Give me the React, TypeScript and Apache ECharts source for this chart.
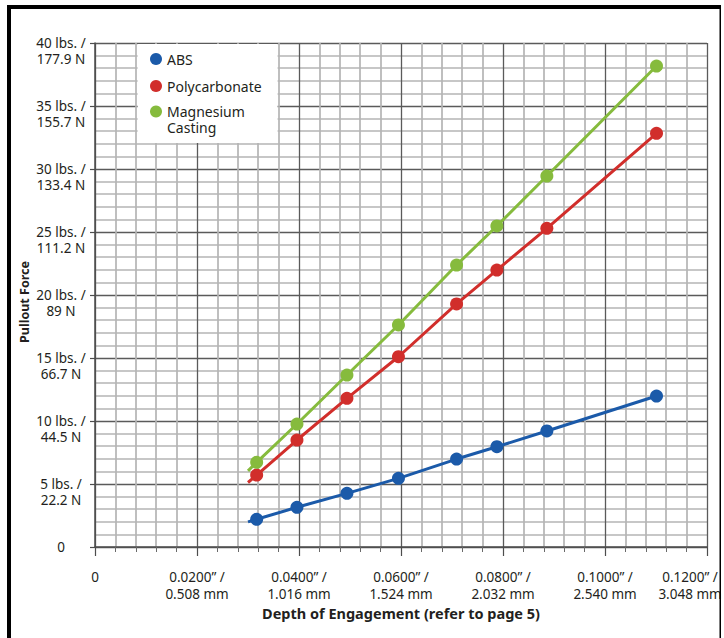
import React, { useEffect, useRef } from "react";
import * as echarts from "echarts";

// Depth of engagement (inches) for each measured point
const depthIn = [0.0317, 0.0396, 0.0494, 0.0595, 0.0709, 0.0788, 0.0886, 0.1101];
// Pullout force (lbs.)
const absForce = [2.2, 3.15, 4.26, 5.45, 6.98, 7.96, 9.21, 11.98];
const polycarbonateForce = [5.71, 8.49, 11.8, 15.1, 19.29, 21.98, 25.29, 32.83];
const magnesiumForce = [6.72, 9.76, 13.65, 17.62, 22.38, 25.48, 29.44, 38.17];
// The drawn lines start slightly before the first measured point
const lineStartDepth = 0.03;
const lineStartForce = [1.99, 5.12, 6.04];

const seriesNames = ["ABS", "Polycarbonate", "Magnesium Casting"];
const seriesColors = ["#1b5aa9", "#d12e2b", "#86bb3d"];

const xTickLabels = [
  "0",
  "0.0200” /\n0.508 mm",
  "0.0400” /\n1.016 mm",
  "0.0600” /\n1.524 mm",
  "0.0800” /\n2.032 mm",
  "0.1000” /\n2.540 mm",
  "0.1200” /\n3.048 mm",
];
const yTickLabels = [
  "0",
  "5 lbs. /\n22.2 N",
  "10 lbs. /\n44.5 N",
  "15 lbs. /\n66.7 N",
  "20 lbs. /\n89 N",
  "25 lbs. /\n111.2 N",
  "30 lbs. /\n133.4 N",
  "35 lbs. /\n155.7 N",
  "40 lbs. /\n177.9 N",
];

const FONT = "'Noto Sans', 'Open Sans', sans-serif";
const TEXT = "#231f20";
const MAJOR = "#5a5a5a";
const MINOR = "#b4b4b4";

export default function App() {
  const ref = useRef<HTMLDivElement>(null);

  useEffect(() => {
    if (!ref.current) return;
    const chart = echarts.init(ref.current, null, { renderer: "svg" });
    const forces = [absForce, polycarbonateForce, magnesiumForce];

    const series = forces.map((f, i) => ({
      name: seriesNames[i],
      type: "line",
      color: seriesColors[i],
      symbol: "circle",
      symbolSize: 13,
      z: 3,
      lineStyle: { width: 3, color: seriesColors[i] },
      itemStyle: { color: seriesColors[i] },
      data: [
        { value: [lineStartDepth, lineStartForce[i]], symbol: "none" },
        ...depthIn.map((d, j) => [d, f[j]]),
      ],
    }));

    const lastX = xTickLabels.length - 1;

    chart.setOption({
      animation: false,
      backgroundColor: "#ffffff",
      textStyle: { fontFamily: FONT },
      grid: {
        left: 95,
        right: 17,
        top: 43,
        bottom: 91,
        containLabel: false,
        outerBoundsMode: "none",
      },
      xAxis: {
        type: "value",
        min: 0,
        max: 0.12,
        interval: 0.02,
        name: "Depth of Engagement (refer to page 5)",
        nameLocation: "middle",
        nameGap: 58,
        nameMoveOverlap: false,
        nameTextStyle: { fontFamily: FONT, fontWeight: "bold", fontSize: 14.5, color: TEXT },
        axisLine: { show: true, lineStyle: { color: "#4d4d4d", width: 1.5 } },
        axisTick: { show: true, length: 9, lineStyle: { color: "#4d4d4d", width: 1.2 } },
        minorTick: { show: true, splitNumber: 5, length: 5, lineStyle: { color: "#6a6a6a", width: 1 } },
        splitLine: { show: true, lineStyle: { color: MAJOR, width: 1.3 } },
        minorSplitLine: { show: true, lineStyle: { color: MINOR, width: 1.7 } },
        axisLabel: {
          margin: 22,
          fontFamily: FONT,
          fontSize: 13.5,
          lineHeight: 16.5,
          color: TEXT,
          align: "center",
          formatter: (v: number) => {
            const idx = Math.round(v / 0.02);
            const s = xTickLabels[idx] ?? "";
            if (idx === lastX) {
              return s
                .split("\n")
                .map((line) => "{last|" + line + "}")
                .join("\n");
            }
            return s;
          },
          rich: {
            last: {
              fontFamily: FONT,
              fontSize: 13.5,
              lineHeight: 16.5,
              color: TEXT,
              padding: [0, 34, 0, 0],
            },
          },
        },
      },
      yAxis: {
        type: "value",
        min: 0,
        max: 40,
        interval: 5,
        name: "Pullout Force",
        nameLocation: "middle",
        nameGap: 64,
        nameMoveOverlap: false,
        nameTextStyle: {
          fontFamily: FONT,
          fontWeight: "bold",
          fontSize: 12.5,
          color: TEXT,
          padding: [0, 14, 0, 0],
        },
        axisLine: { show: true, lineStyle: { color: "#4d4d4d", width: 1.5 } },
        axisTick: { show: true, length: 5, lineStyle: { color: "#4d4d4d", width: 1.2 } },
        minorTick: { show: false, splitNumber: 5 },
        splitLine: { show: true, lineStyle: { color: MAJOR, width: 1.3 } },
        minorSplitLine: { show: true, lineStyle: { color: MINOR, width: 1.7 } },
        axisLabel: {
          margin: 34,
          fontFamily: FONT,
          fontSize: 13.5,
          lineHeight: 16,
          color: TEXT,
          align: "center",
          formatter: (v: number) => {
            const s = yTickLabels[Math.round(v / 5)] ?? "";
            return v === 0 ? s : "\n" + s;
          },
        },
      },
      legend: [
        {
          data: [seriesNames[0], seriesNames[1]],
          orient: "vertical",
          left: 150,
          top: 51,
          padding: 0,
          itemGap: 11,
          itemWidth: 12,
          itemHeight: 12,
          icon: "circle",
          z: 10,
          selectedMode: false,
          textStyle: { fontFamily: FONT, fontSize: 14, lineHeight: 16, color: TEXT },
        },
        {
          data: [seriesNames[2]],
          orient: "vertical",
          left: 150,
          top: 87.5,
          padding: 0,
          itemWidth: 12,
          itemHeight: 12,
          icon: "circle",
          z: 10,
          selectedMode: false,
          formatter: () => "\nMagnesium\nCasting",
          textStyle: { fontFamily: FONT, fontSize: 14, lineHeight: 16, color: TEXT },
        },
      ],
      graphic: [
        {
          type: "rect",
          z: 5,
          silent: true,
          shape: { x: 137.6, y: 44, width: 140, height: 99 },
          style: { fill: "#ffffff" },
        },
        { type: "rect", z: 20, silent: true, shape: { x: 7, y: 5, width: 714, height: 4 }, style: { fill: "#000" } },
        { type: "rect", z: 20, silent: true, shape: { x: 7, y: 5, width: 4, height: 640 }, style: { fill: "#000" } },
        { type: "rect", z: 20, silent: true, shape: { x: 719.5, y: 5, width: 1.5, height: 640 }, style: { fill: "#000" } },
      ],
      series,
    });

    return () => chart.dispose();
  }, []);

  return (
    <div
      ref={ref}
      style={{ position: "fixed", left: 0, top: 0, width: 724, height: 638, background: "#fff" }}
    />
  );
}
